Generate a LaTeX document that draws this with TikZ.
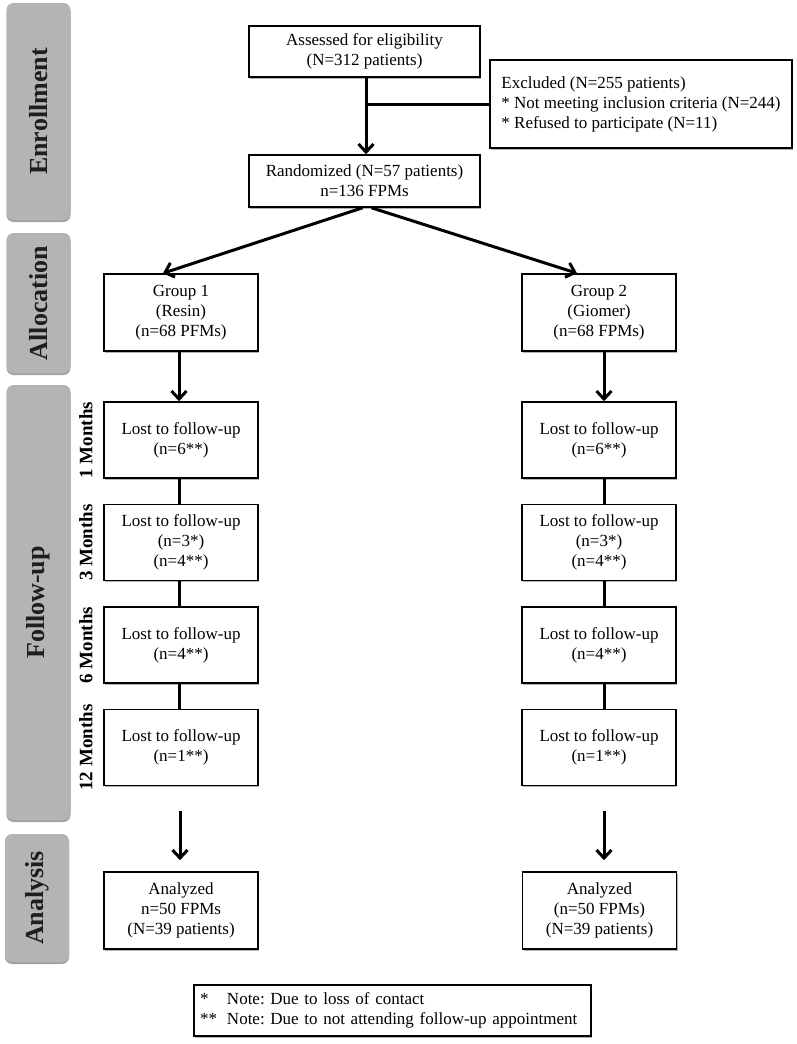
\documentclass[tikz,border=0pt]{standalone}
\usepackage{fontspec}
\setmainfont{Liberation Serif}
\usetikzlibrary{arrows.meta,shadows}
\definecolor{barclr}{RGB}{180,180,180}
\definecolor{barshadow}{RGB}{140,140,140}
\definecolor{lblclr}{RGB}{30,30,30}
\frenchspacing
\begin{document}
\begin{tikzpicture}[x=1pt,y=-1pt,
  box/.style={draw, line width=1.6pt, fill=white, align=center, inner sep=0pt,
    font=\fontsize{17}{20}\selectfont,
    drop shadow={shadow xshift=1.2pt, shadow yshift=-1.8pt, fill=black!50, opacity=.6}},
  stdbox/.style={box, minimum width=154pt, minimum height=77pt},
  bar/.style={fill=barclr, rounded corners=7pt, inner sep=0pt, minimum width=64pt,
    drop shadow={shadow xshift=0pt, shadow yshift=-2pt, fill=barshadow, opacity=.8}},
  barlabel/.style={rotate=90, font=\fontsize{26}{30}\selectfont\bfseries, text=lblclr},
  month/.style={rotate=90, font=\fontsize{19}{22}\selectfont\bfseries},
  conn/.style={line width=3pt},
  arr/.style={conn, -{Straight Barb[length=8pt,width=15pt]}}
]
\useasboundingbox (0,0) rectangle (797,1044);

% side bars
\node[bar, minimum height=217pt] (barE) at (38.5,111.5) {};
\node[barlabel] (lblE) at (barE.center) {Enrollment};
\node[bar, minimum height=140pt] (barA) at (38.5,303) {};
\node[barlabel] (lblA) at (barA.center) {Allocation};
\node[bar, minimum height=435pt] (barF) at (38.5,602.5) {};
\node[barlabel] (lblF) at (barF.center) {Follow-up};
\node[bar, minimum height=128pt] (barN) at (37,898) {};
\node[barlabel] (lblN) at (barN.center) {Analysis};

% month labels
\node[month] (m1) at (86,440) {1 Months};
\node[month] (m3) at (86,542.5) {3 Months};
\node[month] (m6) at (86,645) {6 Months};
\node[month] (m12) at (86,747.5) {12 Months};

% top boxes
\node[box, minimum width=231pt, minimum height=51pt] (assess) at (364.5,51.5)
  {Assessed for eligibility\\(N=312 patients)};
\node[box, minimum width=302pt, minimum height=88pt, align=left] (excl) at (641,104)
  {Excluded (N=255 patients)\\* Not meeting inclusion criteria (N=244)\\* Refused to participate (N=11)};
\node[box, minimum width=231pt, minimum height=52pt] (rand) at (364.5,181)
  {Randomized (N=57 patients)\\n=136 FPMs};

% groups
\node[stdbox] (g1) at (181,312.5) {Group 1\\(Resin)\\(n=68 PFMs)};
\node[stdbox] (g2) at (599,312.5) {Group 2\\(Giomer)\\(n=68 FPMs)};

% follow-up left
\node[stdbox, minimum height=76pt] (l1) at (181,440) {Lost to follow-up\\(n=6**)};
\node[stdbox, minimum height=76pt] (l2) at (181,542.5) {Lost to follow-up\\(n=3*)\\(n=4**)};
\node[stdbox, minimum height=76pt] (l3) at (181,645) {Lost to follow-up\\(n=4**)};
\node[stdbox, minimum height=76pt] (l4) at (181,747.5) {Lost to follow-up\\(n=1**)};
% follow-up right
\node[stdbox, minimum height=76pt] (r1) at (599,440) {Lost to follow-up\\(n=6**)};
\node[stdbox, minimum height=76pt] (r2) at (599,542.5) {Lost to follow-up\\(n=3*)\\(n=4**)};
\node[stdbox, minimum height=76pt] (r3) at (599,645) {Lost to follow-up\\(n=4**)};
\node[stdbox, minimum height=76pt] (r4) at (599,747.5) {Lost to follow-up\\(n=1**)};

% analysis
\node[stdbox] (a1) at (181,910.5) {Analyzed\\n=50 FPMs\\(N=39 patients)};
\node[stdbox] (a2) at (599.5,910.5) {Analyzed\\(n=50 FPMs)\\(N=39 patients)};

% note
\node[box, minimum height=51pt, text width=385pt, inner xsep=6pt, align=left] (note) at (392.5,1010.5)
  {\makebox[27pt][l]{*}Note: Due to loss of contact\\\makebox[27pt][l]{**}Note: Due to not attending follow-up appointment};

% connectors
\draw[arr] ([xshift=1.5pt]assess.south) -- ([xshift=1.5pt]rand.north);
\draw[conn] ([xshift=1.5pt]assess.south |- excl.west) -- (excl.west);
\draw[arr] ([xshift=-2pt]rand.south) -- ([xshift=-18pt]g1.north);
\draw[arr] ([xshift=7pt]rand.south) -- ([xshift=-22pt]g2.north);

\draw[arr] ([xshift=-2pt]g1.south) -- ([xshift=-2pt]l1.north);
\draw[conn] ([xshift=-2pt]l1.south) -- ([xshift=-2pt]l2.north);
\draw[conn] ([xshift=-2pt]l2.south) -- ([xshift=-2pt]l3.north);
\draw[conn] ([xshift=-2pt]l3.south) -- ([xshift=-2pt]l4.north);
\draw[arr, shorten <=25pt, shorten >=11pt] ([xshift=-1pt]l4.south) -- ([xshift=-1pt]a1.north);

\draw[arr] ([xshift=5pt]g2.south) -- ([xshift=5pt]r1.north);
\draw[conn] ([xshift=5pt]r1.south) -- ([xshift=5pt]r2.north);
\draw[conn] ([xshift=5pt]r2.south) -- ([xshift=5pt]r3.north);
\draw[conn] ([xshift=5pt]r3.south) -- ([xshift=5pt]r4.north);
\draw[arr, shorten <=25pt, shorten >=11pt] ([xshift=5pt]r4.south) -- ([xshift=4.5pt]a2.north);
\end{tikzpicture}
\end{document}
